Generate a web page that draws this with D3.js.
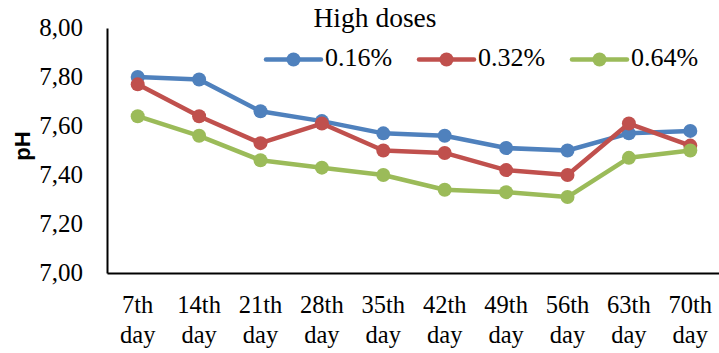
<!DOCTYPE html>
<html>
<head>
<meta charset="utf-8">
<script src="https://cdn.jsdelivr.net/npm/d3@7"></script>
<style>
  html, body { margin: 0; padding: 0; background: #fff; overflow: hidden; }
  svg { display: block; }
  .serif { font-family: "Liberation Serif", "Times New Roman", "DejaVu Serif", serif; }
</style>
</head>
<body>
<svg id="chart" width="719" height="353"></svg>
<script>
// pH over the storage period for each dose
const days = ["7th day", "14th day", "21th day", "28th day", "35th day",
              "42th day", "49th day", "56th day", "63th day", "70th day"];
const dose016 = [7.80, 7.79, 7.66, 7.62, 7.57, 7.56, 7.51, 7.50, 7.57, 7.58];
const dose032 = [7.77, 7.64, 7.53, 7.61, 7.50, 7.49, 7.42, 7.40, 7.61, 7.52];
const dose064 = [7.64, 7.56, 7.46, 7.43, 7.40, 7.34, 7.33, 7.31, 7.47, 7.50];
const seriesNames = ["0.16%", "0.32%", "0.64%"];
const yTicks = [7.0, 7.2, 7.4, 7.6, 7.8, 8.0];
const chartTitle = "High doses";
const yTitle = "pH";

const series = [
  { name: seriesNames[0], values: dose016, color: "#4F81BD" },
  { name: seriesNames[1], values: dose032, color: "#C0504D" },
  { name: seriesNames[2], values: dose064, color: "#9BBB59" }
];

const svg = d3.select("#chart");
const plotLeft = 107, plotRight = 721, plotTop = 28, plotBottom = 273;

const x = d3.scaleBand().domain(days).range([plotLeft, plotRight]);
const y = d3.scaleLinear().domain([7, 8]).range([plotBottom, plotTop]);
const cx = d => x(d) + x.bandwidth() / 2;

// Y axis
const yAxis = d3.axisLeft(y).tickValues(yTicks).tickSize(0).tickPadding(24)
  .tickFormat(v => d3.format(".2f")(v).replace(".", ","));
const gy = svg.append("g").attr("transform", `translate(${plotLeft},0)`).call(yAxis)
  .attr("font-family", null).attr("font-size", null);
gy.select(".domain").attr("stroke", "#000").attr("stroke-width", 2);
gy.selectAll("text").attr("class", "serif").style("font-size", "25px")
  .attr("dy", "0.28em").attr("fill", "#000");

// X axis with two-line labels
const xAxis = d3.axisBottom(x).tickSize(0).tickPadding(0);
const gx = svg.append("g").attr("transform", `translate(0,${plotBottom})`).call(xAxis)
  .attr("font-family", null).attr("font-size", null);
gx.select(".domain").attr("stroke", "#000").attr("stroke-width", 2);
gx.selectAll(".tick text").each(function(d) {
  const t = d3.select(this).text(null)
    .attr("class", "serif").style("font-size", "24.5px").attr("fill", "#000")
    .attr("dy", null).attr("y", 0);
  const parts = d.split(" ");
  t.append("tspan").attr("x", 0).attr("y", 40).text(parts[0]);
  t.append("tspan").attr("x", 0).attr("y", 70).text(parts[1]);
});

// Y title
svg.append("text")
  .attr("transform", "translate(30,146) rotate(-90)")
  .attr("text-anchor", "middle")
  .style("font-family", "'Liberation Sans', Arial, sans-serif")
  .style("font-weight", "bold").style("font-size", "22px")
  .text(yTitle);

// Chart title
svg.append("text")
  .attr("class", "serif")
  .attr("x", 375).attr("y", 27).attr("text-anchor", "middle")
  .style("font-size", "27.5px")
  .text(chartTitle);

// Lines and markers
const line = d3.line().x((v, i) => cx(days[i])).y(v => y(v));
series.forEach(s => {
  const g = svg.append("g");
  g.append("path").datum(s.values)
    .attr("d", line).attr("fill", "none")
    .attr("stroke", s.color).attr("stroke-width", 4.5)
    .attr("stroke-linejoin", "round");
  g.selectAll("circle").data(s.values).enter().append("circle")
    .attr("cx", (v, i) => cx(days[i])).attr("cy", v => y(v))
    .attr("r", 7).attr("fill", s.color);
});

// Legend
const legendX = [266, 419, 572];
series.forEach((s, i) => {
  const g = svg.append("g").attr("transform", `translate(${legendX[i]},59.5)`);
  g.append("line").attr("x1", 0).attr("x2", 55).attr("y1", 0).attr("y2", 0)
    .attr("stroke", s.color).attr("stroke-width", 4.5).attr("stroke-linecap", "round");
  g.append("circle").attr("cx", 27.5).attr("cy", 0).attr("r", 7).attr("fill", s.color);
  g.append("text").attr("class", "serif").attr("x", 59).attr("y", 6.5)
    .style("font-size", "26px").text(s.name);
});
</script>
</body>
</html>
